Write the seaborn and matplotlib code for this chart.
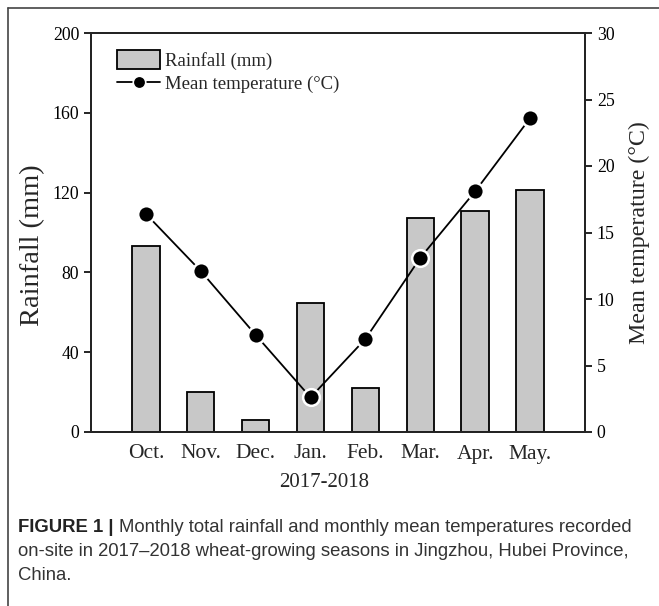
import numpy as np
import pandas as pd
import matplotlib
matplotlib.use("Agg")
import matplotlib.pyplot as plt
from matplotlib.lines import Line2D
from matplotlib.patches import Patch
import seaborn as sns

months = ["Oct.", "Nov.", "Dec.", "Jan.", "Feb.", "Mar.", "Apr.", "May."]
rainfall = [93, 20, 6, 64.5, 22, 107.5, 111, 121.5]
temperature = [16.4, 12.1, 7.3, 2.6, 7.0, 13.1, 18.1, 23.6]
rain_ticks = [0, 40, 80, 120, 160, 200]
temp_ticks = [0, 5, 10, 15, 20, 25, 30]

sns.set_theme(style="white")
plt.rcParams["font.family"] = ["Liberation Serif", "DejaVu Serif"]

df = pd.DataFrame({"month": months, "rain": rainfall, "temp": temperature,
                   "pos": np.arange(len(months))})

fig = plt.figure(figsize=(6.59, 6.06), dpi=100)
ax = fig.add_axes([91/659, 1-432/606, 494/659, 399/606])

sns.barplot(data=df, x="month", y="rain", ax=ax, color="#c8c8c8",
            edgecolor="black", linewidth=1.3, width=0.5, saturation=1)
ax.set_xlim(-1, 8)
ax.set_ylim(0, 200)
ax.set_yticks(rain_ticks)
ax.set_ylabel("Rainfall (mm)", fontsize=20.5)
ax.yaxis.set_label_coords((45-91)/494, (432-245)/399)
ax.set_xlabel("2017-2018", fontsize=15)
ax.xaxis.set_label_coords((324-91)/494, (432-473)/399)
ax.tick_params(axis="x", length=0, labelsize=15.5, pad=9)
ax.tick_params(axis="y", length=5, width=1.2, direction="out", labelsize=12.8,
               left=True, colors="black")
for s in ax.spines.values():
    s.set_color("black")
    s.set_linewidth(1.3)

ax2 = ax.twinx()
sns.lineplot(data=df, x="pos", y="temp", ax=ax2, color="black", linewidth=1.3,
             marker="o", markersize=12, markeredgecolor="white",
             markeredgewidth=1.8, markerfacecolor="black")
ax2.set_ylim(0, 30)
ax2.set_yticks(temp_ticks)
ax2.set_xlim(-1, 8)
ax2.set_ylabel("Mean temperature (°C)", fontsize=17.3, labelpad=10)
ax2.set_xlabel("")
ax2.tick_params(axis="y", length=5, width=1.2, direction="out", labelsize=12.8,
                right=True, colors="black")
ax2.grid(False)
ax.grid(False)

handles = [Patch(facecolor="#c8c8c8", edgecolor="black", linewidth=1.3),
           Line2D([0], [0], color="black", linewidth=1.3, marker="o",
                  markersize=9, markerfacecolor="black",
                  markeredgecolor="white", markeredgewidth=1.2)]
ax2.legend(handles, ["Rainfall (mm)", "Mean temperature (°C)"],
           loc="upper left", bbox_to_anchor=(0.03, 0.985), frameon=False,
           fontsize=13.5, handlelength=2.3, handleheight=1.15, handletextpad=0.25,
           labelspacing=0.2, borderaxespad=0.2)

# outer border (left and top visible)
fig.add_artist(Line2D([8/659, 8/659], [0, 1-8/606], transform=fig.transFigure,
                      color="#444444", linewidth=1.2))
fig.add_artist(Line2D([8/659, 1], [1-8/606, 1-8/606], transform=fig.transFigure,
                      color="#444444", linewidth=1.2))

cap_fam = ["Liberation Sans Narrow", "Liberation Sans", "DejaVu Sans"]
cs = 13.3
t1 = fig.text(18/659, 1-527/606, "FIGURE 1 | ", fontsize=cs, fontweight="bold",
              family=cap_fam, va="center", ha="left", color="#222222")
fig.canvas.draw()
bb = t1.get_window_extent()
x1 = bb.x1 / fig.bbox.width
fig.text(x1, 1-527/606, "Monthly total rainfall and monthly mean temperatures recorded",
         fontsize=cs, family=cap_fam, va="center", ha="left", color="#333333")
fig.text(18/659, 1-552/606,
         "on-site in 2017\u20132018 wheat-growing seasons in Jingzhou, Hubei Province,",
         fontsize=cs, family=cap_fam, va="center", ha="left", color="#333333")
fig.text(18/659, 1-576/606, "China.", fontsize=cs, family=cap_fam,
         va="center", ha="left", color="#333333")

fig.savefig("out.png", dpi=100)
